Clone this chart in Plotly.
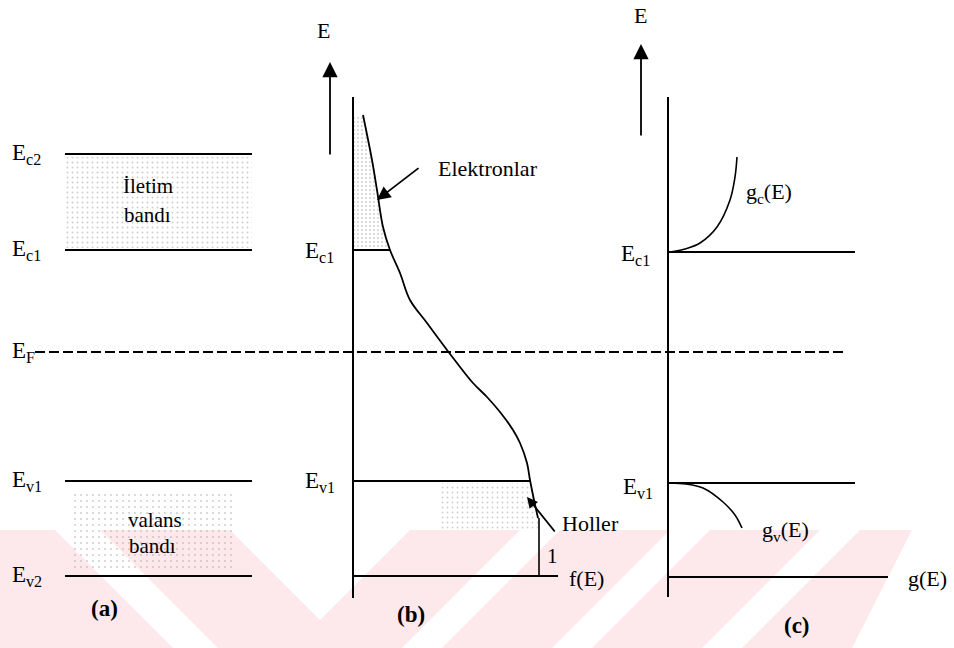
import plotly.graph_objects as go

# ---------------- data (diagram coordinates: x to the right, E downwards in px-like units) -------------
level_names = ["Ec2", "Ec1", "EF", "Ev1", "Ev2"]
level_y = [154, 250, 352, 481, 576]
level_labels = ["E<sub>c2</sub>", "E<sub>c1</sub>", "E<sub>F</sub>", "E<sub>v1</sub>", "E<sub>v2</sub>"]

# panel (b) Fermi-Dirac curve f(E)
fE_x = [363, 372, 377, 383, 390, 400, 410, 427, 447, 457, 473, 487, 500, 513, 520, 527, 530, 534, 538]
fE_y = [115, 160, 190, 227, 250, 273, 300, 323, 350, 363, 383, 397, 412, 430, 443, 463, 480, 500, 518]

# panel (c) densities of states
gc_x = [670, 685, 700, 717, 730, 735, 737]
gc_y = [252, 249, 243, 227, 200, 177, 157]
gv_x = [670, 686, 703, 723, 735, 742]
gv_y = [483, 484, 488, 502, 515, 528]

panel_labels = ["(a)", "(b)", "(c)"]

# ---------------- figure ----------------
FONT = "Liberation Serif"
fig = go.Figure()

def line(xs, ys, width=2, dash=None, color="black"):
    fig.add_trace(go.Scatter(x=xs, y=ys, mode="lines", hoverinfo="skip",
                             line=dict(color=color, width=width, dash=dash, shape="spline" if len(xs) > 2 else "linear")))

def stipple(xs, ys, sol=0.18, size=4):
    fig.add_trace(go.Scatter(x=xs, y=ys, mode="lines", fill="toself", hoverinfo="skip",
                             line=dict(width=0, color="rgba(0,0,0,0)"),
                             fillcolor="rgba(0,0,0,0)",
                             fillpattern=dict(shape=".", fgcolor="#9a9a9a", bgcolor="rgba(255,255,255,0)",
                                              size=size, solidity=sol)))

# watermark stripes (pale pink)
pink = "#fde8ec"
wm = [
    [(0, 530), (55, 530), (173, 648), (0, 648)],
    [(100, 530), (230, 530), (320, 620), (410, 530), (520, 530), (402, 648), (218, 648)],
    [(560, 530), (670, 530), (552, 648), (442, 648)],
    [(710, 530), (820, 530), (702, 648), (592, 648)],
    [(860, 530), (912, 530), (852, 648), (742, 648)],
]
shapes = []
for poly in wm:
    path = "M " + " L ".join(f"{x},{y}" for x, y in poly) + " Z"
    shapes.append(dict(type="path", path=path, fillcolor=pink, line=dict(width=0), layer="below",
                       xref="x", yref="y"))

# stippled bands in (a)
stipple([65, 252, 252, 65], [157, 157, 248, 248], sol=0.12, size=5)
stipple([70, 235, 235, 70], [494, 494, 570, 570], sol=0.08, size=6)
# stippled areas in (b)
stipple([353, 353, 390] + fE_x[4::-1], [115, 250, 250] + fE_y[4::-1], sol=0.16, size=4)
stipple([440, 530, 534, 538, 538, 440], [483, 483, 500, 518, 530, 530], sol=0.1, size=5)

# panel (a) levels
for name, y in zip(level_names, level_y):
    if name != "EF":
        line([65, 252], [y, y])
# Fermi level dashed across
ef = level_y[level_names.index("EF")]
line([35, 845], [ef, ef], width=2, dash="10px,4px")

# panel (b)
line([353, 353], [97, 598])
ec1 = level_y[1]; ev1 = level_y[3]; ev2 = level_y[4]
line([353, fE_x[4]], [ec1, ec1])
line([353, 530], [ev1, ev1])
line([353, 558], [ev2, ev2])
line(fE_x, fE_y, width=1.8)
line([539, 539], [518, ev2], width=1.6)

# panel (c)
line([668, 668], [97, 597])
line([668, 855], [252, 252])
line([668, 855], [483, 483])
line([668, 888], [577, 577])
line(gc_x, gc_y, width=1.6)
line(gv_x, gv_y, width=1.6)

ann = []
def txt(s, x, y, size=21, anchor="left", bold=False):
    ann.append(dict(text=f"<b>{s}</b>" if bold else s, x=x, y=y, xref="x", yref="y", showarrow=False,
                    xanchor=anchor, yanchor="middle", font=dict(family=FONT, size=size, color="black")))

def arrow(x0, y0, x1, y1, size=1.4, width=1.8, head=2):
    ann.append(dict(text="", x=x1, y=y1, ax=x0, ay=y0, xref="x", yref="y", axref="x", ayref="y",
                    showarrow=True, arrowhead=head, arrowsize=size, arrowwidth=width, arrowcolor="black"))

for lab, y in zip(level_labels, level_y):
    txt(lab, 10, y, size=23)
txt("İletim", 148, 186, anchor="center")
txt("bandı", 147, 215, anchor="center")
txt("valans", 155, 520, anchor="center")
txt("bandı", 152, 546, anchor="center")

txt("E", 323, 30, size=22, anchor="center")
txt(level_labels[1], 303, 252, size=23)
txt(level_labels[3], 303, 482, size=23)
txt("Elektronlar", 436, 168, size=22)
txt("Holler", 560, 523, size=22)
txt("1", 552, 556, anchor="center")
txt("f(E)", 567, 578, size=22)

txt("E", 640, 15, size=22, anchor="center")
txt(level_labels[1], 619, 255, size=23)
txt(level_labels[3], 621, 488, size=23)
txt("g<sub>c</sub>(E)", 744, 193, size=22)
txt("g<sub>v</sub>(E)", 760, 531, size=22)
txt("g(E)", 906, 578, size=22)

for lab, x, y in zip(panel_labels, [104, 411, 797], [608, 614, 625]):
    txt(lab, x, y, size=23, anchor="center", bold=True)

arrow(330, 156, 330, 62, size=1.7, width=1.8)
arrow(641, 137, 641, 44, size=1.7, width=1.8)
arrow(420, 167, 377, 200, size=1.5, width=1.8)
arrow(556, 533, 527, 497, size=1.2, width=1.8)

fig.update_layout(
    width=954, height=648, margin=dict(l=0, r=0, t=0, b=0),
    paper_bgcolor="white", plot_bgcolor="white", showlegend=False,
    xaxis=dict(range=[0, 954], visible=False, fixedrange=True),
    yaxis=dict(range=[648, 0], visible=False, fixedrange=True),
    shapes=shapes, annotations=ann,
)
fig.write_html("out.html", config={"displayModeBar": False},
               post_script="document.body.style.margin='0';document.body.style.overflow='hidden';")
